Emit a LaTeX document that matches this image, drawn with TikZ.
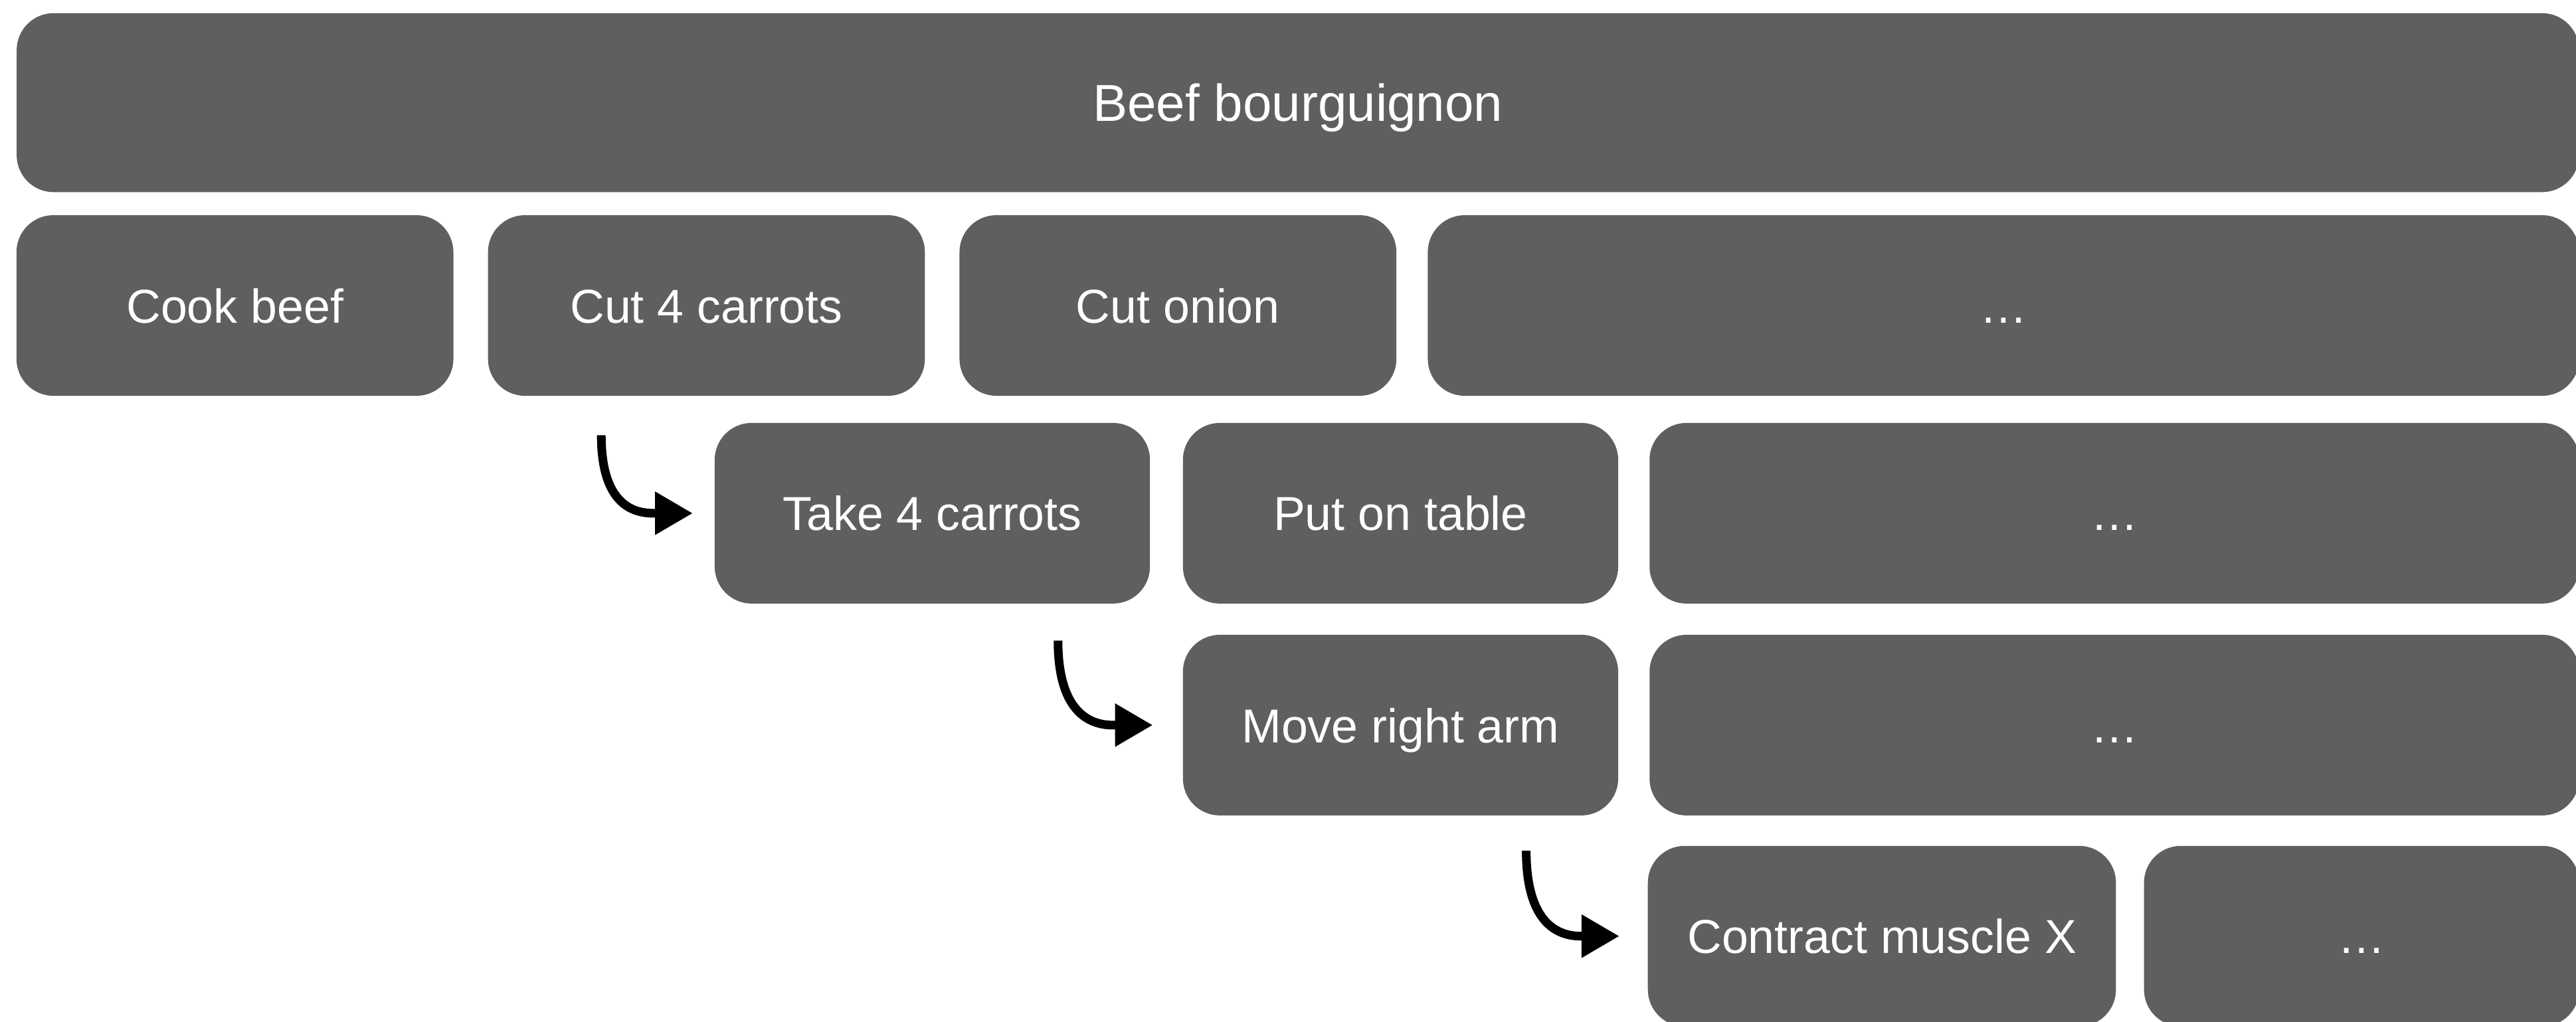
\documentclass[tikz,border=0pt]{standalone}
\usepackage{fontspec}
\setmainfont{Liberation Sans}
\usetikzlibrary{arrows.meta}
\definecolor{boxgray}{HTML}{5F5F5F}

\begin{document}
\begin{tikzpicture}[x=0.02cm,y=-0.02cm,
		blk/.style={fill=boxgray, text=white, rounded corners=0.45cm, inner sep=0pt,
			text height=12pt, text depth=0pt,
			minimum width=5.32cm, minimum height=2.2cm, font=\fontsize{16.5}{20}\selectfont},
		flow/.style={-{Triangle[length=0.46cm,width=0.5cm]}, line width=3pt,
			out=-90, in=180, out looseness=1.5, in looseness=1.3}]
		\useasboundingbox (0,0) rectangle (1568,622);
		
		% Top level goal
		\node[blk, minimum width=31.2cm, minimum height=2.18cm, text height=13pt,
			font=\fontsize{18}{22}\selectfont] (beef) at (790,62.5) {Beef bourguignon};
		
		% First level of subtasks
		\node[blk] (cook) at (143,186) {Cook beef};
		\node[blk] (carrots) at (430,186) {Cut 4 carrots};
		\node[blk] (onion) at (717,186) {Cut onion};
		\node[blk, minimum width=14.02cm] (more1) at (1219.5,186) {\dots};
		
		% Cut 4 carrots broken down
		\node[blk, minimum width=5.3cm] (take) at (567.5,312.5) {Take 4 carrots};
		\node[blk, minimum width=5.3cm] (table) at (852.5,312.5) {Put on table};
		\node[blk, minimum width=11.32cm] (more2) at (1287,312.5) {\dots};
		
		% Take 4 carrots broken down
		\node[blk, minimum width=5.3cm] (arm) at (852.5,441.5) {Move right arm};
		\node[blk, minimum width=11.32cm] (more3) at (1287,441.5) {\dots};
		
		% Move right arm broken down
		\node[blk, minimum width=5.7cm] (muscle) at (1145.5,570) {Contract muscle X};
		\node[blk, minimum width=5.3cm] (more4) at (1437.5,570) {\dots};
		
		% Arrows into each finer level
		\coordinate (a1) at (366,265);
		\coordinate (a2) at (644,390);
		\coordinate (a3) at (929,518);
		\draw[flow, shorten >=0.26cm] (a1) to (take.west);
		\draw[flow, shorten >=0.36cm] (a2) to (arm.west);
		\draw[flow, shorten >=0.34cm] (a3) to (muscle.west);
		
	\end{tikzpicture}
\end{document}
